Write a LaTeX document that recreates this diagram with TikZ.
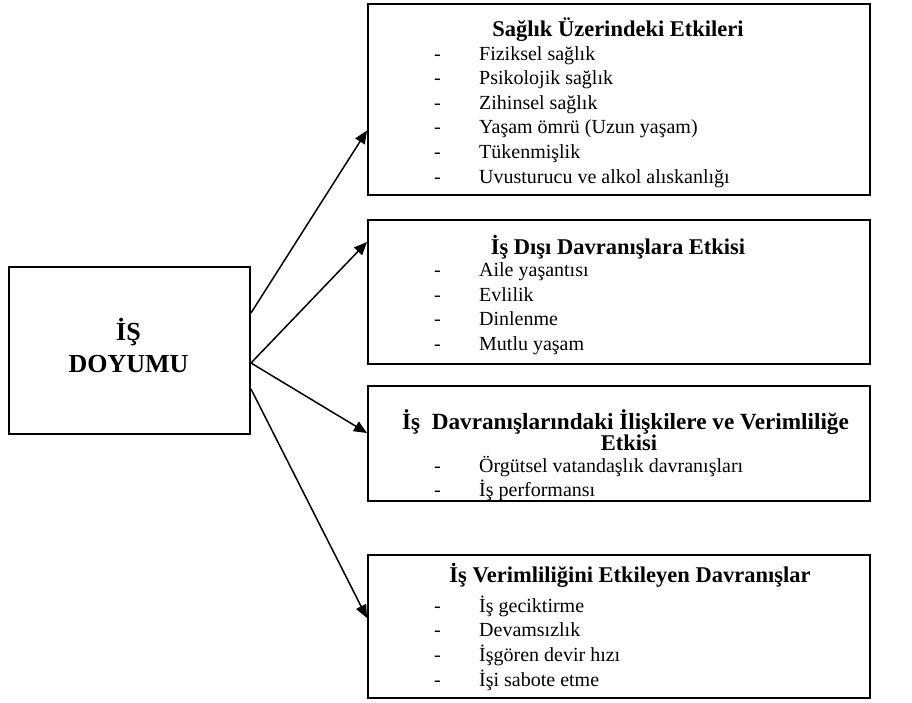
\documentclass[tikz,border=0pt]{standalone}
\usepackage{fontspec}
\setmainfont{Liberation Serif}
\usetikzlibrary{arrows.meta}
\begin{document}
\begin{tikzpicture}[x=1pt,y=-1pt,
  box/.style={draw, line width=2pt, inner sep=0, anchor=north west},
  ttl/.style={font=\bfseries\fontsize{22.5}{24}\selectfont, anchor=base, inner sep=0},
  big/.style={font=\bfseries\fontsize{26}{30}\selectfont, anchor=base, inner sep=0},
  itm/.style={font=\fontsize{20}{24}\selectfont, anchor=base west, inner sep=0},
  arr/.style={line width=1.5pt, -{Triangle[length=13pt,width=11pt]}}]
\useasboundingbox (0,0) rectangle (912,702);
% boxes
\node[box, minimum width=241pt, minimum height=167pt] (b0) at (8,266) {};
\node[box, minimum width=502pt, minimum height=191pt] (b1) at (367,3) {};
\node[box, minimum width=502pt, minimum height=144pt] (b2) at (367,219) {};
\node[box, minimum width=502pt, minimum height=115pt] (b3) at (367,385) {};
\node[box, minimum width=502pt, minimum height=143pt] (b4) at (367,554) {};
% left text
\node[big] (l1) at (128.5,340) {İŞ};
\node[big] (l2) at (128.5,372) {DOYUMU};
% box 1
\node[ttl] (t1) at (618,36) {Sağlık Üzerindeki Etkileri};
\foreach \t [count=\i] in {Fiziksel sağlık, Psikolojik sağlık, Zihinsel sağlık, Yaşam ömrü (Uzun yaşam), Tükenmişlik, Uvusturucu ve alkol alıskanlığı}
  \node[itm] (i1-\i) at (434,{60+(\i-1)*24.6}) {\makebox[45pt][l]{-}\t};
% box 2
\node[ttl] (t2) at (618,254) {İş Dışı Davranışlara Etkisi};
\foreach \t [count=\i] in {Aile yaşantısı, Evlilik, Dinlenme, Mutlu yaşam}
  \node[itm] (i2-\i) at (434,{276.5+(\i-1)*24.7}) {\makebox[45pt][l]{-}\t};
% box 3
\node[ttl, font=\bfseries\fontsize{23.2}{24}\selectfont] (t3a) at (625.5,429) {İş\ \ Davranışlarındaki İlişkilere ve Verimliliğe};
\node[ttl] (t3b) at (629,450) {Etkisi};
\foreach \t [count=\i] in {Örgütsel vatandaşlık davranışları, İş performansı}
  \node[itm] (i3-\i) at (434,{472.5+(\i-1)*24}) {\makebox[45pt][l]{-}\t};
% box 4
\node[ttl] (t4) at (630,582) {İş Verimliliğini Etkileyen Davranışlar};
\foreach \t [count=\i] in {İş geciktirme, Devamsızlık, İşgören devir hızı, İşi sabote etme}
  \node[itm] (i4-\i) at (434,{612+(\i-1)*24.8}) {\makebox[45pt][l]{-}\t};
% arrows
\draw[arr] ([yshift=37.5pt]b0.east) -- ([yshift=-31pt]b1.west);
\draw[arr] ([yshift=-12.5pt]b0.east) -- ([yshift=50pt]b2.west);
\draw[arr] ([yshift=-12.5pt]b0.east) -- ([yshift=10.5pt]b3.west);
\draw[arr] ([yshift=-38.5pt]b0.east) -- ([yshift=8.5pt]b4.west);
\end{tikzpicture}
\end{document}
